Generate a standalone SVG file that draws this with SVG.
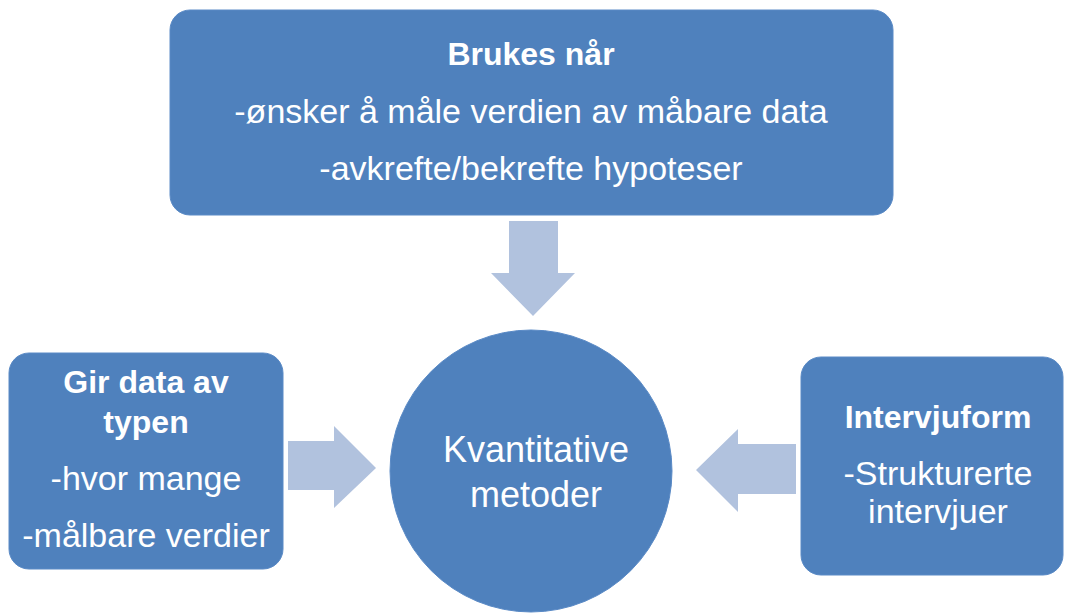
<svg xmlns="http://www.w3.org/2000/svg" width="1065" height="615" viewBox="0 0 1065 615">
<style>
.box{fill:#4F81BD;stroke:#5A8AC6;stroke-width:1}
.arr{fill:#B1C2DE}
text{font-family:"Liberation Sans",Arial,sans-serif;fill:#FFFFFF;text-anchor:middle}
.b{font-weight:bold;font-size:32px}
.r{font-size:34px}
.c{font-size:36px}
</style>
<rect width="1065" height="615" fill="#FFFFFF"/>
<g id="connectors">
<polygon class="arr" points="509,221 558,221 558,273 575,273 533,316 491,273 509,273"/>
<polygon class="arr" points="288,441 334,441 334,426 376,468 334,508 334,490 288,490"/>
<polygon class="arr" points="796,444 738,444 738,429 696,470 738,512 738,494 796,494"/>
</g>
<g id="node-top">
<rect class="box" x="170" y="10" width="723" height="205" rx="20"/>
<text class="b" x="531" y="65">Brukes når</text>
<text class="r" x="531" y="123">-ønsker å måle verdien av måbare data</text>
<text class="r" x="531" y="180">-avkrefte/bekrefte hypoteser</text>
</g>
<g id="node-center">
<circle class="box" cx="531" cy="471" r="141"/>
<text class="c" x="536" y="462">Kvantitative</text>
<text class="c" x="536" y="507">metoder</text>
</g>
<g id="node-left">
<rect class="box" x="9" y="353" width="274" height="216" rx="20"/>
<text class="b" x="146" y="393">Gir data av</text>
<text class="b" x="146" y="433">typen</text>
<text class="r" x="146" y="490">-hvor mange</text>
<text class="r" x="146" y="547">-målbare verdier</text>
</g>
<g id="node-right">
<rect class="box" x="801" y="357" width="262" height="218" rx="20"/>
<text class="b" x="938" y="428">Intervjuform</text>
<text class="r" x="938" y="485">-Strukturerte</text>
<text class="r" x="938" y="523">intervjuer</text>
</g>
</svg>
